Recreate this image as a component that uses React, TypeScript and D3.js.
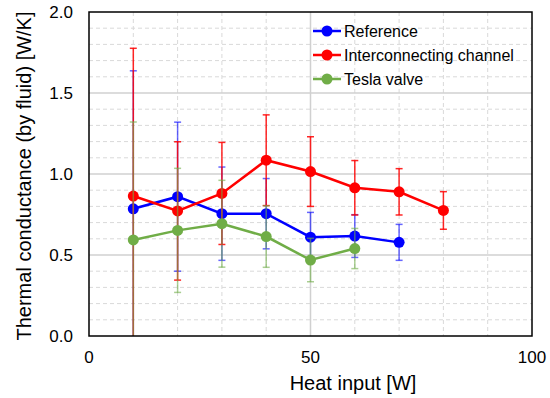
import React, { useEffect, useRef } from 'react'
import * as d3 from 'd3'

const heatInput = [10, 20, 30, 40, 50, 60, 70, 80]

const referenceValues = [0.785, 0.86, 0.755, 0.755, 0.61, 0.617, 0.578]
const referenceErrors = [0.852, 0.46, 0.288, 0.217, 0.153, 0.132, 0.111]

const channelValues = [0.864, 0.772, 0.88, 1.085, 1.015, 0.915, 0.89, 0.775]
const channelErrors = [0.912, 0.427, 0.315, 0.28, 0.215, 0.168, 0.143, 0.116]

const teslaValues = [0.593, 0.652, 0.693, 0.614, 0.469, 0.54]
const teslaErrors = [0.728, 0.383, 0.268, 0.19, 0.134, 0.124]

const seriesNames = ['Reference', 'Interconnecting channel', 'Tesla valve']
const seriesColors = ['#0000ff', '#ff0000', '#70ad47']

const xTicks = [0, 50, 100]
const yTicks = [0, 0.5, 1.0, 1.5, 2.0]

const font = 'Arial, "Liberation Sans", sans-serif'

export default function App() {
  const ref = useRef<SVGSVGElement>(null)

  useEffect(() => {
    const svg = d3.select(ref.current)
    svg.selectAll('*').remove()

    const margin = { top: 12, right: 18, bottom: 62, left: 89 }
    const width = 550 - margin.left - margin.right
    const height = 398 - margin.top - margin.bottom

    const x = d3.scaleLinear().domain([0, 100]).range([0, width])
    const y = d3.scaleLinear().domain([0, 2]).range([height, 0])

    const g = svg.append('g')
      .attr('transform', 'translate(' + margin.left + ',' + margin.top + ')')

    svg.append('defs').append('clipPath').attr('id', 'plotClip')
      .append('rect').attr('width', width).attr('height', height)

    // minor grid
    g.append('g').selectAll('line')
      .data(d3.range(1, 20).filter(i => i % 5 !== 0).map(i => i / 10))
      .enter().append('line')
        .attr('x1', 0).attr('x2', width)
        .attr('y1', d => y(d)).attr('y2', d => y(d))
        .attr('stroke', '#d9d9d9').attr('stroke-dasharray', '4,3')
    g.append('g').selectAll('line')
      .data(d3.range(1, 10).filter(i => i !== 5).map(i => i * 10))
      .enter().append('line')
        .attr('y1', 0).attr('y2', height)
        .attr('x1', d => x(d)).attr('x2', d => x(d))
        .attr('stroke', '#d9d9d9').attr('stroke-dasharray', '4,3')

    // major grid
    g.append('g').selectAll('line')
      .data([0.5, 1.0, 1.5])
      .enter().append('line')
        .attr('x1', 0).attr('x2', width)
        .attr('y1', d => y(d)).attr('y2', d => y(d))
        .attr('stroke', '#d0d0d0').attr('stroke-width', 1.5)
    g.append('line')
      .attr('x1', x(50)).attr('x2', x(50))
      .attr('y1', 0).attr('y2', height)
      .attr('stroke', '#d0d0d0').attr('stroke-width', 1.5)

    const series = [
      { values: referenceValues, errors: referenceErrors },
      { values: channelValues, errors: channelErrors },
      { values: teslaValues, errors: teslaErrors },
    ]

    const plot = g.append('g').attr('clip-path', 'url(#plotClip)')

    series.forEach((s, k) => {
      const pts = s.values.map((v, i) => ({ x: heatInput[i], v: v, e: s.errors[i] }))
      const color = seriesColors[k]

      const eb = plot.append('g')
        .attr('stroke', color).attr('stroke-width', 1.5).attr('stroke-opacity', k === 1 ? 0.85 : 0.6)
      eb.selectAll('line.v').data(pts).enter().append('line')
        .attr('x1', d => x(d.x)).attr('x2', d => x(d.x))
        .attr('y1', d => y(d.v + d.e)).attr('y2', d => y(d.v - d.e))
      eb.selectAll('line.t').data(pts).enter().append('line')
        .attr('x1', d => x(d.x) - 3.5).attr('x2', d => x(d.x) + 3.5)
        .attr('y1', d => y(d.v + d.e)).attr('y2', d => y(d.v + d.e))
      eb.selectAll('line.b').data(pts).enter().append('line')
        .attr('x1', d => x(d.x) - 3.5).attr('x2', d => x(d.x) + 3.5)
        .attr('y1', d => y(d.v - d.e)).attr('y2', d => y(d.v - d.e))

      plot.append('path')
        .datum(pts)
        .attr('fill', 'none')
        .attr('stroke', color)
        .attr('stroke-width', 2.5)
        .attr('d', d3.line<any>().x(d => x(d.x)).y(d => y(d.v)))

      plot.append('g').selectAll('circle').data(pts).enter().append('circle')
        .attr('cx', d => x(d.x)).attr('cy', d => y(d.v))
        .attr('r', 5.5).attr('fill', color)
    })

    // frame
    g.append('rect')
      .attr('width', width).attr('height', height)
      .attr('fill', 'none').attr('stroke', '#000').attr('stroke-width', 1.5)

    // tick labels
    g.append('g').selectAll('text').data(yTicks).enter().append('text')
      .attr('x', -16).attr('y', d => y(d)).attr('dy', '0.35em')
      .attr('text-anchor', 'end')
      .attr('font-family', font).attr('font-size', 17)
      .text(d => d3.format('.1f')(d))
    g.append('g').selectAll('text').data(xTicks).enter().append('text')
      .attr('x', d => x(d)).attr('y', height + 21).attr('dy', '0.35em')
      .attr('text-anchor', 'middle')
      .attr('font-family', font).attr('font-size', 17)
      .text(d => d)

    // axis titles
    svg.append('text')
      .attr('x', 353).attr('y', 383).attr('dy', '0.35em')
      .attr('text-anchor', 'middle')
      .attr('font-family', font).attr('font-size', 20)
      .text('Heat input [W]')
    svg.append('text')
      .attr('transform', 'translate(24,176) rotate(-90)')
      .attr('dy', '0.35em')
      .attr('text-anchor', 'middle')
      .attr('font-family', font).attr('font-size', 20)
      .text('Thermal conductance (by fluid) [W/K]')

    // legend
    const legend = svg.append('g').selectAll('g').data(seriesNames).enter().append('g')
      .attr('transform', (d, i) => 'translate(313,' + (31 + i * 24) + ')')
    legend.append('line')
      .attr('x1', 0).attr('x2', 28).attr('y1', 0).attr('y2', 0)
      .attr('stroke', (d, i) => seriesColors[i]).attr('stroke-width', 2.5)
    legend.append('circle')
      .attr('cx', 14).attr('r', 5.5)
      .attr('fill', (d, i) => seriesColors[i])
    legend.append('text')
      .attr('x', 31).attr('dy', '0.35em')
      .attr('font-family', font).attr('font-size', 16)
      .text(d => d)
  }, [])

  return (
    <svg ref={ref} width={550} height={398}
      style={{ position: 'absolute', left: 0, top: 0, background: '#fff' }} />
  )
}
